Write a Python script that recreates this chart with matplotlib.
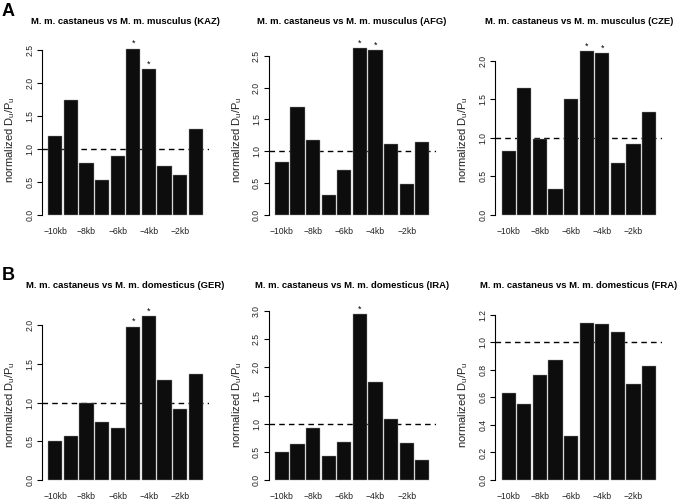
import matplotlib
matplotlib.use("Agg")
import matplotlib.pyplot as plt

plt.rcParams['font.family'] = ['Liberation Sans', 'DejaVu Sans']

# data
titles = ['M. m. castaneus vs M. m. musculus (KAZ)',
          'M. m. castaneus vs M. m. musculus (AFG)',
          'M. m. castaneus vs M. m. musculus (CZE)',
          'M. m. castaneus vs M. m. domesticus (GER)',
          'M. m. castaneus vs M. m. domesticus (IRA)',
          'M. m. castaneus vs M. m. domesticus (FRA)']
kaz = [1.19, 1.74, 0.79, 0.53, 0.90, 2.52, 2.21, 0.74, 0.61, 1.30]
afg = [0.83, 1.69, 1.18, 0.32, 0.71, 2.62, 2.59, 1.11, 0.48, 1.15]
cze = [0.83, 1.65, 0.98, 0.34, 1.50, 2.13, 2.10, 0.68, 0.92, 1.34]
ger = [0.50, 0.57, 1.00, 0.75, 0.67, 1.98, 2.12, 1.29, 0.92, 1.37]
ira = [0.50, 0.64, 0.93, 0.42, 0.67, 2.95, 1.75, 1.09, 0.65, 0.35]
fra = [0.63, 0.55, 0.76, 0.87, 0.32, 1.14, 1.13, 1.075, 0.695, 0.83]
series = [kaz, afg, cze, ger, ira, fra]
stars = [[5, 6], [5, 6], [5, 6], [5, 6], [5], []]
xlabels = ['\u221210kb', '\u22128kb', '\u22126kb', '\u22124kb', '\u22122kb']

# axis settings per panel
ytops = [2.71, 2.81, 2.32, 2.31, 3.18, 1.30]
ytick_max = [2.5, 2.5, 2.0, 2.0, 3.0, 1.2]
ytick_step = [0.5, 0.5, 0.5, 0.5, 0.5, 0.2]

W, H = 680, 500
fig = plt.figure(figsize=(W / 100, H / 100), dpi=100)

def add_panel(i):
    row, col = divmod(i, 3)
    left = 42 + 226.67 * col
    top = 36 + 265 * row
    bottom = 222 + 265 * row
    ax = fig.add_axes([left / W, 1 - bottom / H, 167 / W, (bottom - top) / H])
    vals = series[i]
    n = len(vals)
    xs = [0.6 + 1.1 * k for k in range(n)]
    ax.axhline(1.0, color='black', lw=1.0, ls=(0, (4, 3)), zorder=1)
    ax.bar(xs, vals, width=1.0, color='#0d0d0d', edgecolor='#999999',
           linewidth=0.3, zorder=2)
    for k in stars[i]:
        ax.annotate('*', (xs[k], vals[k]), xytext=(0, 3.5), textcoords='offset points',
                    ha='center', va='center', fontsize=6.5, zorder=3)
    ytop = ytops[i]
    ax.set_ylim(-0.039 * ytop, ytop)
    ax.set_xlim(-0.336, 11.436)
    step = ytick_step[i]
    nt = int(round(ytick_max[i] / step)) + 1
    ticks = [round(step * k, 2) for k in range(nt)]
    ax.set_yticks(ticks)
    ax.set_yticklabels(['%.1f' % t for t in ticks], rotation=90, va='center',
                       fontsize=6.2, color='#222222')
    ax.tick_params(axis='y', length=3.5, width=0.8, pad=2)
    ax.set_xticks([xs[k] for k in range(0, n, 2)])
    ax.set_xticklabels(xlabels, fontsize=6.2, color='#222222')
    ax.tick_params(axis='x', length=0, pad=3.5)
    for s in ['top', 'right', 'bottom']:
        ax.spines[s].set_visible(False)
    ax.spines['left'].set_bounds(0, ytick_max[i])
    ax.spines['left'].set_linewidth(0.8)
    ax.set_ylabel('normalized D$_\\mathregular{u}$/P$_\\mathregular{u}$', fontsize=8,
                  color='#222222')
    ax.yaxis.set_label_coords(-25 / 167, (bottom - 140 - 265 * row) / (bottom - top))
    ax.text(0.5, 1 + 15 / (bottom - top), titles[i], transform=ax.transAxes,
            ha='center', va='center', fontsize=6.8, fontweight='bold')
    ax.patch.set_alpha(0)
    return ax

for i in range(6):
    add_panel(i)

fig.text(2 / W, 1 - 12 / H, 'A', fontsize=13, fontweight='bold', va='center')
fig.text(2 / W, 1 - 276 / H, 'B', fontsize=13, fontweight='bold', va='center')

fig.savefig('out.png', dpi=100)
